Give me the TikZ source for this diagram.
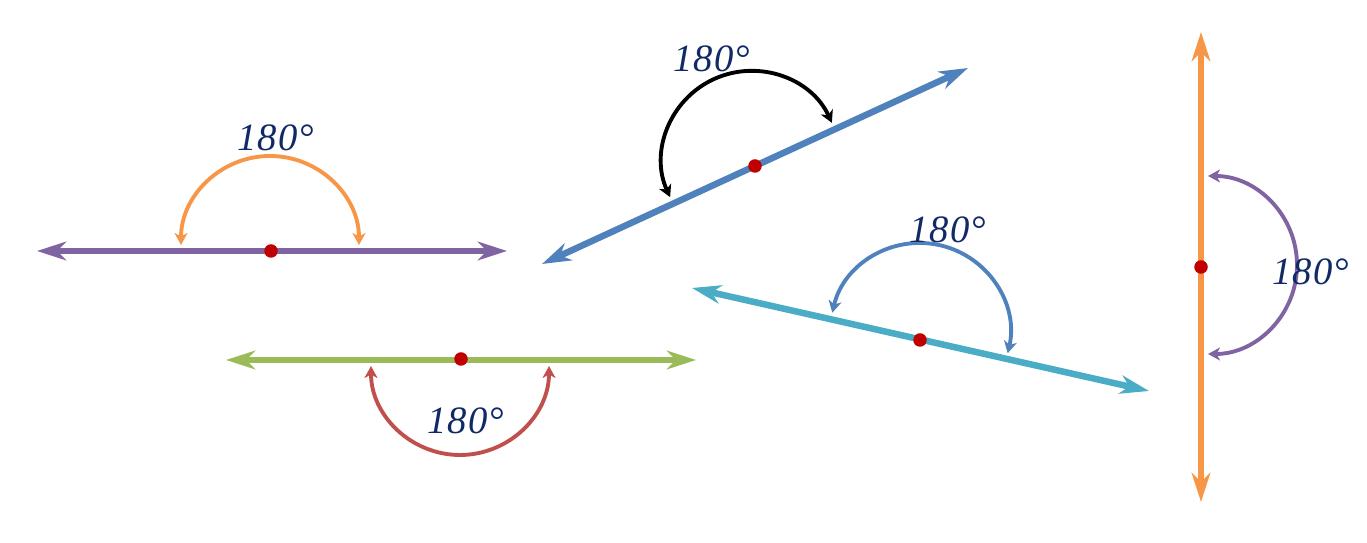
\documentclass[tikz,border=0pt]{standalone}
\usepackage{fontspec}
\setmainfont{Liberation Serif}
\usetikzlibrary{arrows.meta, positioning}

\definecolor{lnpurple}{HTML}{8064A2}
\definecolor{lnorange}{HTML}{F79646}
\definecolor{lnblue}{HTML}{4F81BD}
\definecolor{lnaqua}{HTML}{4BACC6}
\definecolor{lngreen}{HTML}{9BBB59}
\definecolor{lnred}{HTML}{C0504D}
\definecolor{ptred}{HTML}{C00000}
\definecolor{degnavy}{HTML}{112A66}

\tikzset{
    ray/.style={line width=3.7pt, {Stealth[length=0.58cm, width=0.37cm, inset=0.18cm]}-{Stealth[length=0.58cm, width=0.37cm, inset=0.18cm]}},
    turn/.style={line width=2.2pt, {Stealth[length=0.24cm, width=0.26cm, inset=0.07cm]}-{Stealth[length=0.24cm, width=0.26cm, inset=0.07cm]}},
    pt/.style={circle, fill=ptred, inner sep=0pt, minimum size=0.27cm},
    deg/.style={text=degnavy, font=\fontsize{22pt}{22pt}\selectfont\itshape\addfontfeature{LetterSpace=3}, inner sep=0pt}
}

\begin{document}
\begin{tikzpicture}[x=0.02cm, y=0.02cm]
        \useasboundingbox (0,0) rectangle (1367,543);

        % horizontal, angle above
        \coordinate (a1) at (37,292);
        \coordinate (b1) at (507,292);
        \coordinate (c1) at (270,298);
        \draw[ray, lnpurple] (a1) -- (b1);
        \draw[turn, lnorange] (c1) ++(180:89) arc[start angle=180, end angle=0, radius=89];
        \node[pt] (o1) at (271,292) {};
        \node[deg] (d1) at (276,405) {180°};

        % slanted up, angle above
        \coordinate (a2) at (542,279);
        \coordinate (b2) at (968,475);
        \coordinate (c2) at (751,383);
        \draw[ray, lnblue] (a2) -- (b2);
        \draw[turn, black] (c2) ++(204.7:89) arc[start angle=204.7, end angle=24.7, radius=89];
        \node[pt] (o2) at (755,377) {};
        \node[deg] (d2) at (712,484) {180°};

        % vertical, angle on the right
        \coordinate (a3) at (1201,511);
        \coordinate (b3) at (1201,41);
        \coordinate (c3) at (1208,278);
        \draw[ray, lnorange] (a3) -- (b3);
        \draw[turn, lnpurple] (c3) ++(90:89) arc[start angle=90, end angle=-90, radius=89];
        \node[pt] (o3) at (1201,276) {};
        \node[deg] (d3) at (1311,271) {180°};

        % slanted down, angle above
        \coordinate (a4) at (692,255);
        \coordinate (b4) at (1149,152);
        \coordinate (c4) at (920,210);
        \draw[ray, lnaqua] (a4) -- (b4);
        \draw[turn, lnblue] (c4) ++(167:90) arc[start angle=167, end angle=-13, radius=90];
        \node[pt] (o4) at (920,203) {};
        \node[deg] (d4) at (948,313) {180°};

        % horizontal, angle below
        \coordinate (a5) at (226,183);
        \coordinate (b5) at (696,183);
        \coordinate (c5) at (460,177);
        \draw[ray, lngreen] (a5) -- (b5);
        \draw[turn, lnred] (c5) ++(180:89) arc[start angle=180, end angle=360, radius=89];
        \node[pt] (o5) at (461,184) {};
        \node[deg] (d5) at (466,122) {180°};
\end{tikzpicture}
\end{document}
